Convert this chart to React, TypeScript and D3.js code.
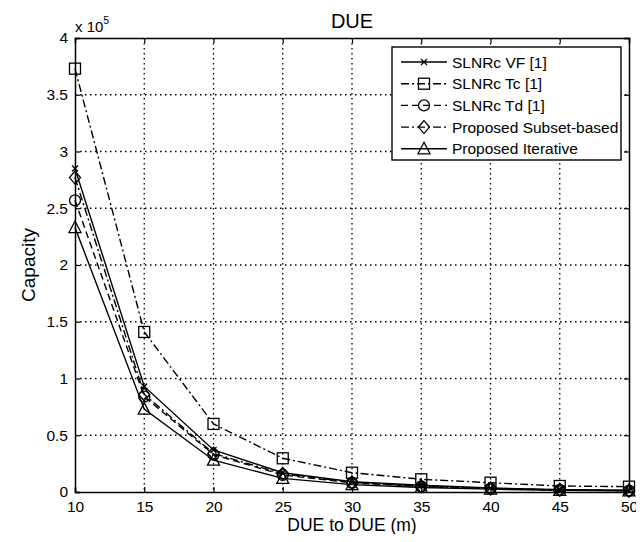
import React, { useEffect, useRef } from 'react';
import * as d3 from 'd3';

const distances = [10, 15, 20, 25, 30, 35, 40, 45, 50];
const slnrVF = [2.85, 0.93, 0.37, 0.17, 0.09, 0.06, 0.035, 0.02, 0.015];
const slnrTc = [3.73, 1.41, 0.6, 0.297, 0.17, 0.112, 0.082, 0.053, 0.047];
const slnrTd = [2.57, 0.84, 0.33, 0.15, 0.08, 0.05, 0.03, 0.018, 0.012];
const subsetBased = [2.77, 0.86, 0.34, 0.16, 0.085, 0.05, 0.03, 0.02, 0.012];
const iterative = [2.33, 0.73, 0.28, 0.12, 0.065, 0.04, 0.025, 0.015, 0.01];

const xTicks = [10, 15, 20, 25, 30, 35, 40, 45, 50];
const yTicks = [0, 0.5, 1, 1.5, 2, 2.5, 3, 3.5, 4];

type Marker = 'x' | 'square' | 'circle' | 'diamond' | 'triangle';

interface ISeries {
  name: string;
  values: number[];
  dash: string;
  marker: Marker;
}

const series: ISeries[] = [
  { name: 'SLNRc VF [1]', values: slnrVF, dash: '', marker: 'x' },
  { name: 'SLNRc Tc [1]', values: slnrTc, dash: '8,3,2,3', marker: 'square' },
  { name: 'SLNRc Td [1]', values: slnrTd, dash: '7,4', marker: 'circle' },
  { name: 'Proposed Subset-based', values: subsetBased, dash: '8,3,2,3', marker: 'diamond' },
  { name: 'Proposed Iterative', values: iterative, dash: '', marker: 'triangle' },
];

const FONT = 'Liberation Sans, Arial, sans-serif';

const drawMarker = (g: d3.Selection<SVGGElement, unknown, null, undefined>, m: Marker, x: number, y: number) => {
  const s = 5.5;
  const st = (sel: any) => sel.attr('fill', 'none').attr('stroke', '#000').attr('stroke-width', 1.3);
  if (m === 'x') {
    st(g.append('path').attr('d', `M${x - 3},${y - 3}L${x + 3},${y + 3}M${x - 3},${y + 3}L${x + 3},${y - 3}`));
  } else if (m === 'square') {
    st(g.append('rect').attr('x', x - s).attr('y', y - s).attr('width', 2 * s).attr('height', 2 * s));
  } else if (m === 'circle') {
    st(g.append('circle').attr('cx', x).attr('cy', y).attr('r', s));
  } else if (m === 'diamond') {
    st(g.append('path').attr('d', `M${x},${y - 6.5}L${x + 5.5},${y}L${x},${y + 6.5}L${x - 5.5},${y}Z`));
  } else {
    st(g.append('path').attr('d', `M${x},${y - 6.5}L${x + 6},${y + 5}L${x - 6},${y + 5}Z`));
  }
};

const App: React.FC = () => {
  const ref = useRef<SVGSVGElement>(null);

  useEffect(() => {
    if (!ref.current) return;
    const svg = d3.select(ref.current);
    svg.selectAll('*').remove();

    const margin = { top: 38, left: 75, right: 15, bottom: 50 };
    const W = 644;
    const H = 542;
    const width = W - margin.left - margin.right;
    const height = H - margin.top - margin.bottom;

    const x = d3.scaleLinear().domain([10, 50]).range([0, width]);
    const y = d3.scaleLinear().domain([0, 4]).range([height, 0]);

    svg.append('rect').attr('width', W).attr('height', H).attr('fill', '#fff');

    const g = svg.append('g').attr('transform', `translate(${margin.left},${margin.top})`);

    // grid
    g.append('g')
      .selectAll('line')
      .data(xTicks.slice(1, -1))
      .enter()
      .append('line')
      .attr('x1', (d) => x(d))
      .attr('x2', (d) => x(d))
      .attr('y1', 0)
      .attr('y2', height)
      .attr('stroke', '#000')
      .attr('stroke-width', 1.3)
      .attr('stroke-dasharray', '1.5,3.5');
    g.append('g')
      .selectAll('line')
      .data(yTicks.slice(1, -1))
      .enter()
      .append('line')
      .attr('x1', 0)
      .attr('x2', width)
      .attr('y1', (d) => y(d))
      .attr('y2', (d) => y(d))
      .attr('stroke', '#000')
      .attr('stroke-width', 1.3)
      .attr('stroke-dasharray', '1.5,3.5');

    // axes
    const xAxis = g
      .append('g')
      .attr('transform', `translate(0,${height})`)
      .call(d3.axisBottom(x).tickValues(xTicks).tickSize(-5).tickPadding(9).tickFormat(d3.format('d')));
    const yAxis = g
      .append('g')
      .call(d3.axisLeft(y).tickValues(yTicks).tickSize(-5).tickPadding(7).tickFormat((d) => String(d)));
    g.append('g').call(d3.axisTop(x).tickValues(xTicks).tickSize(-5).tickFormat(() => ''));
    g.append('g')
      .attr('transform', `translate(${width},0)`)
      .call(d3.axisRight(y).tickValues(yTicks).tickSize(-5).tickFormat(() => ''));
    g.selectAll('.domain').attr('stroke', '#000').attr('stroke-width', 1.5);
    g.selectAll('.tick line').attr('stroke', '#000').attr('stroke-width', 1.2);
    [xAxis, yAxis].forEach((a) =>
      a.selectAll('text').attr('fill', '#000').style('font-size', '15.5px').style('font-family', FONT)
    );

    // lines
    const line = d3
      .line<number>()
      .x((_, i) => x(distances[i]))
      .y((d) => y(d));

    series.forEach((s) => {
      g.append('path')
        .datum(s.values)
        .attr('d', line)
        .attr('fill', 'none')
        .attr('stroke', '#000')
        .attr('stroke-width', 1.4)
        .attr('stroke-dasharray', s.dash || null);
      const mg = g.append('g');
      s.values.forEach((v, i) => drawMarker(mg, s.marker, x(distances[i]), y(v)));
    });

    // legend
    const lx = 392 - margin.left;
    const ly = 47 - margin.top;
    const lg = g.append('g').attr('transform', `translate(${lx},${ly})`);
    lg.append('rect')
      .attr('width', 229)
      .attr('height', 113)
      .attr('fill', '#fff')
      .attr('stroke', '#000')
      .attr('stroke-width', 1.4);
    series.forEach((s, i) => {
      const yy = 15 + i * 21.7;
      lg.append('line')
        .attr('x1', 9)
        .attr('x2', 55)
        .attr('y1', yy)
        .attr('y2', yy)
        .attr('stroke', '#000')
        .attr('stroke-width', 1.4)
        .attr('stroke-dasharray', s.dash || null);
      drawMarker(lg as any, s.marker, 32, yy);
      lg.append('text')
        .attr('x', 60)
        .attr('y', yy + 5.5)
        .style('font-size', '15.5px')
        .style('font-family', FONT)
        .text(s.name);
    });

    // titles
    svg.append('text')
      .attr('x', margin.left + width / 2)
      .attr('y', 28)
      .attr('text-anchor', 'middle')
      .style('font-size', '20px')
      .style('font-family', FONT)
      .text('DUE');
    svg.append('text')
      .attr('x', margin.left + width / 2)
      .attr('y', 531)
      .attr('text-anchor', 'middle')
      .style('font-size', '17.5px')
      .style('font-family', FONT)
      .text('DUE to DUE (m)');
    svg.append('text')
      .attr('transform', `translate(35,${margin.top + height / 2}) rotate(-90)`)
      .attr('text-anchor', 'middle')
      .style('font-size', '19px')
      .style('font-family', FONT)
      .text('Capacity');
    const exp = svg.append('text').attr('x', 75).attr('y', 32).style('font-family', FONT).style('font-size', '15px');
    exp.append('tspan').text('x 10');
    exp.append('tspan').attr('dy', -8).style('font-size', '10.5px').text('5');
  }, []);

  return (
    <div style={{ margin: -8 }}>
      <svg ref={ref} width={644} height={542} style={{ display: 'block' }} />
    </div>
  );
};

export default App;
